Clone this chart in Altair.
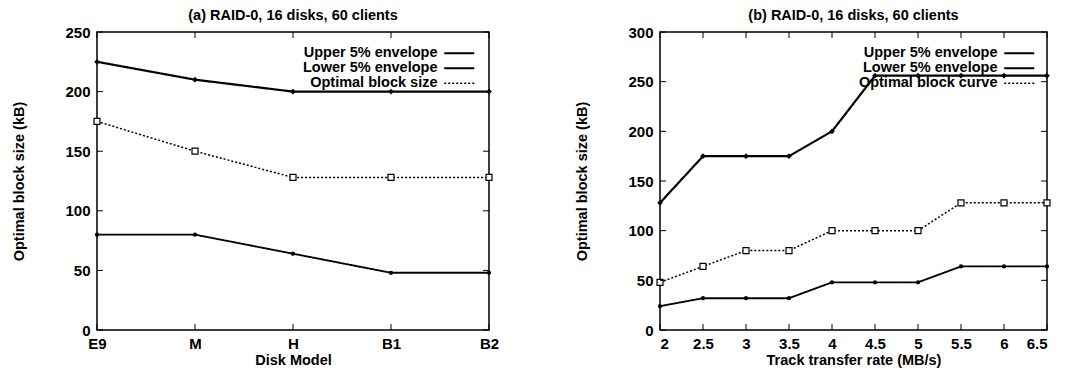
import altair as alt
import pandas as pd

# ---- data ----
models = ["E9", "M", "H", "B1", "B2"]
a_upper = [225, 210, 200, 200, 200]
a_lower = [80, 80, 64, 48, 48]
a_opt = [175, 150, 128, 128, 128]

rates = [2, 2.5, 3, 3.5, 4, 4.5, 5, 5.5, 6, 6.5]
b_upper = [128, 175, 175, 175, 200, 256, 256, 256, 256, 256]
b_lower = [24, 32, 32, 32, 48, 48, 48, 64, 64, 64]
b_opt = [48, 64, 80, 80, 100, 100, 100, 128, 128, 128]

series_a = ["Upper 5% envelope", "Lower 5% envelope", "Optimal block size"]
series_b = ["Upper 5% envelope", "Lower 5% envelope", "Optimal block curve"]

yticks_a = [0, 50, 100, 150, 200, 250]
yticks_b = [0, 50, 100, 150, 200, 250, 300]

FONT = "Liberation Sans"
FS = 14.5


def long(xs, cols, names):
    rows = []
    for name, vals in zip(names, cols):
        for x, v in zip(xs, vals):
            rows.append({"x": x, "y": v, "series": name})
    return pd.DataFrame(rows)


df_a = long(models, [a_upper, a_lower, a_opt], series_a)
df_b = long(rates, [b_upper, b_lower, b_opt], series_b)


def legend_def(x, y):
    return alt.Legend(
        title=None,
        orient="none",
        legendX=x,
        legendY=y,
        symbolType="M-3,0L3,0",
        symbolSize=100,
        symbolStrokeColor="black",
        symbolFillColor="transparent",
        labelAlign="right",
        labelOffset={"expr": "-29"},
        labelFont=FONT,
        labelFontSize=FS,
        labelFontWeight="bold",
        labelColor="black",
        rowPadding=0,
        labelLimit=300,
    )


def panel(df, names, xs, xenc, xfield_type, yticks, title, lx, ly, w, h):
    ymax = yticks[-1]
    dash = alt.StrokeDash(
        "series:N",
        scale=alt.Scale(domain=names, range=[[1, 0], [1, 0], [2, 2]]),
        legend=legend_def(lx, ly),
    )
    sw = alt.StrokeWidth(
        "series:N",
        scale=alt.Scale(domain=names, range=[2.2, 1.5, 1.0]),
        legend=legend_def(lx, ly),
    )
    yscale = alt.Scale(domain=[0, ymax], nice=False)
    yenc = alt.Y(
        "y:Q",
        scale=yscale,
        axis=alt.Axis(values=yticks, title="Optimal block size (kB)", grid=False),
    )
    base = alt.Chart(df).encode(x=xenc, y=yenc)
    lines = base.mark_line(color="black").encode(
        strokeDash=dash, strokeWidth=sw, detail="series:N"
    )
    marker_styles = [("diamond", "black", 16), ("circle", "black", 9), ("square", "white", 36)]
    pts = []
    for name, (shp, fil, sz) in zip(names, marker_styles):
        pts.append(
            base.mark_point(shape=shp, fill=fil, filled=True, stroke="black",
                            strokeWidth=1.2, size=sz, opacity=1)
            .transform_filter(alt.datum.series == name)
        )
    # inward (gnuplot-style) tick marks on all four sides
    ytdf = pd.DataFrame({"y": yticks})
    xtdf = pd.DataFrame({"x": xs})
    ytick_l = alt.Chart(ytdf).mark_rule(color="black", strokeWidth=1).encode(
        y=alt.Y("y:Q", scale=yscale), x=alt.value(0), x2=alt.value(6)
    )
    ytick_r = alt.Chart(ytdf).mark_rule(color="black", strokeWidth=1).encode(
        y=alt.Y("y:Q", scale=yscale), x=alt.value(w - 6), x2=alt.value(w)
    )
    xt = alt.X(f"x:{xfield_type}", sort=xs if xfield_type == "O" else None)
    xtick_b = alt.Chart(xtdf).mark_rule(color="black", strokeWidth=1).encode(
        x=xt, y=alt.value(h - 6), y2=alt.value(h)
    )
    xtick_t = alt.Chart(xtdf).mark_rule(color="black", strokeWidth=1).encode(
        x=xt, y=alt.value(0), y2=alt.value(6)
    )
    return alt.layer(lines, *pts, ytick_l, ytick_r, xtick_b, xtick_t).properties(
        width=w,
        height=h,
        title=alt.TitleParams(
            title, font=FONT, fontSize=FS, fontWeight="bold", color="black",
            anchor="middle", offset=2,
        ),
    )


xa = alt.X(
    "x:O",
    sort=models,
    scale=alt.Scale(type="point", padding=0),
    axis=alt.Axis(labelAngle=0, title="Disk Model", grid=False),
)
xb = alt.X(
    "x:Q",
    scale=alt.Scale(domain=[2, 6.5], nice=False, zero=False),
    axis=alt.Axis(values=rates, format="~g", title="Track transfer rate (MB/s)", grid=False),
)

left = panel(df_a, series_a, models, xa, "O", yticks_a,
             "(a) RAID-0, 16 disks, 60 clients", 355, 14, 392, 298)
right = panel(df_b, series_b, rates, xb, "Q", yticks_b,
              "(b) RAID-0, 16 disks, 60 clients", 352, 14, 387, 298)

chart = (
    alt.hconcat(left, right, spacing=74)
    .resolve_scale(strokeDash="independent", strokeWidth="independent")
    .resolve_legend(strokeDash="independent", strokeWidth="independent")
    .configure(background="white", padding={"left": 11, "top": 6, "right": 5, "bottom": 5})
    .configure_view(stroke="black", strokeWidth=1.5)
    .configure_axis(
        labelFont=FONT, labelFontSize=15, labelFontWeight="bold", labelColor="black",
        titleFont=FONT, titleFontSize=FS, titleFontWeight="bold", titleColor="black",
        domain=False, ticks=False, labelPadding=7,
    )
    .configure_axisY(titlePadding=38)
    .configure_axisX(titlePadding=2, labelPadding=6)
)

chart.save("out.html", embed_options={"renderer": "svg", "actions": False})
